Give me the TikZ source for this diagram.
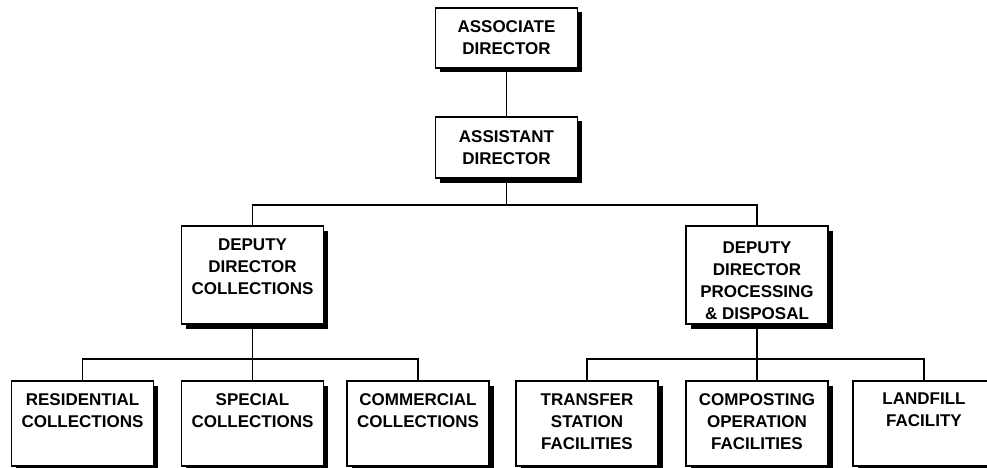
\documentclass[tikz,border=0pt]{standalone}
\usepackage{fontspec}
\setmainfont{Liberation Sans}
\usetikzlibrary{shadows}
\begin{document}
\begin{tikzpicture}[x=1pt,y=-1pt,
  box/.style={draw, fill=white, line width=1.3pt, minimum width=142pt, inner sep=0pt,
    drop shadow={shadow xshift=4.5pt, shadow yshift=-4.5pt, fill=black, opacity=1}},
  lbl/.style={inner sep=0pt, align=center, font=\fontsize{17}{22}\selectfont\bfseries},
  conn/.style={line width=1.4pt}]
\path[use as bounding box] (0,0) rectangle (987,468);
\clip (0,0) rectangle (987,468);
% boxes
\node[box, minimum height=60pt] (assoc) at (506.5,38) {};
\node[box, minimum height=61pt] (asst) at (506.5,147.5) {};
\node[box, minimum height=98pt] (dep1) at (252.5,275) {};
\node[box, minimum height=98pt] (dep2) at (757,275) {};
\node[box, minimum height=85pt] (res) at (82.5,423.5) {};
\node[box, minimum height=85pt] (spec) at (252.5,423.5) {};
\node[box, minimum height=85pt] (comm) at (418,423.5) {};
\node[box, minimum height=85pt] (trans) at (587,423.5) {};
\node[box, minimum height=85pt] (comp) at (757,423.5) {};
\node[box, minimum height=85pt] (land) at (924,423.5) {};
% junctions
\coordinate (j1) at (506.5,205);
\coordinate (j2) at (252.5,359);
\coordinate (j3) at (757,359);
% connectors
\draw[conn] (assoc.south) -- (asst.north);
\draw[conn] (asst.south) -- (j1);
\draw[conn] (dep1.north) |- (j1) -| (dep2.north);
\draw[conn] (dep1.south) -- (j2);
\draw[conn] (res.north) |- (j2) -| (comm.north);
\draw[conn] (j2) -- (spec.north);
\draw[conn] (dep2.south) -- (j3);
\draw[conn] (trans.north) |- (j3) -| (land.north);
\draw[conn] (j3) -- (comp.north);
% labels
\node[lbl] (assoc-t) at (assoc.center) {ASSOCIATE\\DIRECTOR};
\node[lbl] (asst-t) at (asst.center) {ASSISTANT\\DIRECTOR};
\node[lbl, anchor=north] (dep1-t) at (252.5,239) {DEPUTY\\DIRECTOR\\COLLECTIONS};
\node[lbl, anchor=north] (dep2-t) at (757,242) {DEPUTY\\DIRECTOR\\PROCESSING\\\& DISPOSAL};
\node[lbl, anchor=north] (res-t) at (82.5,393) {RESIDENTIAL\\COLLECTIONS};
\node[lbl, anchor=north] (spec-t) at (252.5,393) {SPECIAL\\COLLECTIONS};
\node[lbl, anchor=north] (comm-t) at (418,393) {COMMERCIAL\\COLLECTIONS};
\node[lbl, anchor=north] (trans-t) at (587,393) {TRANSFER\\STATION\\FACILITIES};
\node[lbl, anchor=north] (comp-t) at (757,393) {COMPOSTING\\OPERATION\\FACILITIES};
\node[lbl, anchor=north] (land-t) at (924,393) {LANDFILL\\FACILITY};
\end{tikzpicture}
\end{document}
